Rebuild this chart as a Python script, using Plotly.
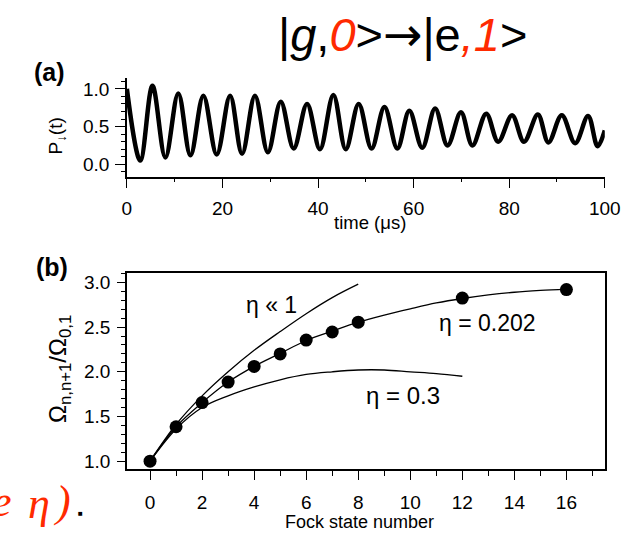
import plotly.graph_objects as go

# ---- Panel (a): Rabi oscillation |g,0> -> |e,1>, read at peaks/troughs ----
time_us = [0, 2.8, 5.35, 8.05, 10.75, 13.3, 16.0, 18.8, 21.6, 24.1, 26.8, 29.5,
           32.2, 34.9, 37.7, 40.4, 43.2, 45.8, 48.5, 51.2, 53.9, 56.6, 59.1,
           61.8, 64.5, 67.1, 69.9, 72.3, 75.2, 77.7, 80.6, 83.1, 86.0, 88.2,
           91.0, 93.8, 96.5, 98.5, 100.0]
p_down = [1.0, 0.05, 1.04, 0.09, 0.94, 0.12, 0.91, 0.13, 0.91, 0.14, 0.91, 0.16,
          0.83, 0.21, 0.80, 0.20, 0.92, 0.20, 0.80, 0.21, 0.76, 0.21, 0.71,
          0.22, 0.74, 0.25, 0.69, 0.25, 0.67, 0.30, 0.65, 0.30, 0.66, 0.29,
          0.65, 0.28, 0.64, 0.24, 0.45]

# ---- Panel (b): Rabi frequency ratio vs Fock state ----
fock_n = [0, 1, 2, 3, 4, 5, 6, 7, 8, 12, 16]
omega_ratio = [1.0, 1.385, 1.655, 1.885, 2.06, 2.20, 2.355, 2.445, 2.555, 2.825, 2.92]

curve_small_n = [0, 1, 2, 3, 4, 5, 6, 7, 8]
curve_small_v = [1.0, 1.41, 1.73, 2.0, 2.24, 2.45, 2.65, 2.83, 2.98]

curve_202_n = list(range(0, 17))
curve_202_v = [1.0, 1.385, 1.655, 1.885, 2.06, 2.205, 2.35, 2.455, 2.555, 2.635,
               2.705, 2.77, 2.82, 2.86, 2.89, 2.91, 2.925]

curve_03_n = list(range(0, 13))
curve_03_v = [1.0, 1.36, 1.60, 1.73, 1.83, 1.91, 1.97, 2.0, 2.02, 2.02, 2.0, 1.98, 1.95]

W, H = 644, 536
FONT = "Liberation Sans, Arial, sans-serif"
SERIF = "Liberation Serif, Times New Roman, serif"
RED = "#ff2a00"


def px_x(p):
    return p / W


def px_y(p):
    return 1 - p / H


fig = go.Figure()

fig.add_trace(go.Scatter(x=time_us, y=p_down, mode="lines",
                         line=dict(color="black", width=4.5, shape="spline", smoothing=1.0),
                         xaxis="x", yaxis="y", showlegend=False))

for xs, ys in [(curve_small_n, curve_small_v), (curve_202_n, curve_202_v), (curve_03_n, curve_03_v)]:
    fig.add_trace(go.Scatter(x=xs, y=ys, mode="lines",
                             line=dict(color="black", width=1.3, shape="spline"),
                             xaxis="x2", yaxis="y2", showlegend=False))

fig.add_trace(go.Scatter(x=fock_n, y=omega_ratio, mode="markers",
                         marker=dict(color="black", size=13),
                         xaxis="x2", yaxis="y2", showlegend=False))

tick_font = dict(family=FONT, size=19, color="black")

fig.update_layout(
    width=W, height=H,
    margin=dict(l=0, r=0, t=0, b=0),
    paper_bgcolor="white", plot_bgcolor="white",
    xaxis=dict(domain=[px_x(126), px_x(620)], range=[0, 100], anchor="y",
               showline=True, linecolor="black", linewidth=1.5, showgrid=False, zeroline=False,
               ticks="outside", ticklen=10, tickwidth=1.3, tickcolor="black", dtick=20, tick0=0,
               minor=dict(dtick=10, ticks="outside", ticklen=4, tickcolor="black", tickwidth=1.2),
               tickfont=tick_font, ticklabelstandoff=4),
    yaxis=dict(domain=[px_y(176.7), px_y(77)], range=[-0.164, 1.15], anchor="x",
               showline=True, linecolor="black", linewidth=1.5, showgrid=False, zeroline=False,
               ticks="outside", ticklen=10, tickwidth=1.3, tickcolor="black", dtick=0.5, tick0=0,
               tickformat=".1f",
               minor=dict(dtick=0.1, ticks="outside", ticklen=4, tickcolor="black", tickwidth=1.2),
               tickfont=tick_font, ticklabelstandoff=2),
    xaxis2=dict(domain=[px_x(126), px_x(620.7)], range=[-0.89, 17.5], anchor="y2",
                showline=True, mirror=True, linecolor="black", linewidth=1.5, showgrid=False,
                zeroline=False, ticks="outside", ticklen=9, tickwidth=1.3, tickcolor="black",
                dtick=2, tick0=0,
                minor=dict(dtick=1, ticks="outside", ticklen=5, tickcolor="black", tickwidth=1.2),
                tickfont=tick_font, ticklabelstandoff=6),
    yaxis2=dict(domain=[px_y(471), px_y(274)], range=[0.908, 3.1], anchor="x2",
                showline=True, mirror=True, linecolor="black", linewidth=1.5, showgrid=False,
                zeroline=False, ticks="outside", ticklen=8, tickwidth=1.3, tickcolor="black",
                dtick=0.5, tick0=0, tickformat=".1f",
                minor=dict(dtick=0.1, ticks="outside", ticklen=4, tickcolor="black", tickwidth=1.2),
                tickfont=tick_font, ticklabelstandoff=3),
)


def ann(text, x, y, size, angle=0, color="black", family=FONT, xanchor="center"):
    fig.add_annotation(text=text, x=px_x(x), y=px_y(y), xref="paper", yref="paper",
                       showarrow=False, textangle=angle, xanchor=xanchor, yanchor="middle",
                       font=dict(family=family, size=size, color=color))


# title
ann('|<i>g</i>,<i><span style="color:%s">0</span></i>&gt;'
    '<span style="font-family:DejaVu Sans">→</span>'
    '|e<i><span style="color:%s">,1</span></i>&gt;' % (RED, RED), 411, 34, 47)
# panel labels
ann("<b>(a)</b>", 46, 71, 25)
ann("<b>(b)</b>", 49, 267, 25)
# axis titles
ann("time (μs)", 377, 223, 18.5)
ann("Fock state number", 366, 524, 18)
ann("P<sub>↓</sub>(t)", 54, 136, 19, angle=-90)
ann("Ω<sub>n,n+1</sub>/Ω<sub>0,1</sub>", 57, 370, 24, angle=-90)
# curve labels
ann("η « 1", 275, 306, 23)
ann("η = 0.202", 499, 324, 23)
ann("η = 0.3", 411, 397, 24)
# clipped red slide text at bottom-left
ann("<i>e</i>", 9, 503, 44, color=RED, family=SERIF, xanchor="right")
ann("<i>η</i>", 35, 505, 44, color=RED, family=SERIF)
ann("<i>)</i>", 59, 503, 44, color=RED, family=SERIF)
ann("<b>■</b>", 78, 515, 8)

fig.write_html("out.html")
